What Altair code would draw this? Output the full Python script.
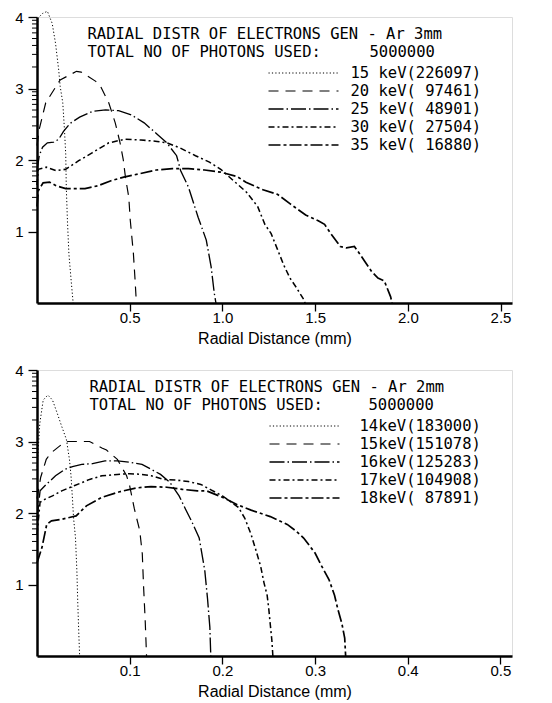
import altair as alt
import pandas as pd
import numpy as np

# ---------------- data: top panel (Ar 3mm) ----------------
top_names = ["15 keV", "20 keV", "25 keV", "30 keV", "35 keV"]
top_labels = ["15 keV(226097)", "20 keV( 97461)", "25 keV( 48901)", "30 keV( 27504)", "35 keV( 16880)"]
top_header = "RADIAL DISTR OF ELECTRONS GEN - Ar 3mm"

t15_x = [0.0, 0.004, 0.03, 0.056, 0.082, 0.10, 0.117, 0.125, 0.139, 0.148, 0.155, 0.158, 0.164, 0.172, 0.184, 0.195]
t15_y = [3.5, 3.98, 4.05, 4.08, 3.91, 3.63, 3.26, 3.03, 2.80, 2.43, 2.08, 1.62, 1.16, 0.69, 0.32, 0.0]
t20_x = [0.0, 0.012, 0.047, 0.125, 0.213, 0.238, 0.317, 0.343, 0.387, 0.422, 0.448, 0.465, 0.477, 0.495, 0.503, 0.52, 0.529, 0.536]
t20_y = [2.2, 2.43, 2.80, 3.12, 3.24, 3.23, 3.10, 3.03, 2.80, 2.52, 2.24, 2.01, 1.76, 1.48, 1.16, 0.69, 0.32, 0.0]
t25_x = [0.0, 0.012, 0.03, 0.056, 0.09, 0.117, 0.143, 0.178, 0.23, 0.30, 0.37, 0.44, 0.509, 0.578, 0.648, 0.70, 0.753, 0.775, 0.817, 0.869, 0.913, 0.939, 0.956, 0.965]
t25_y = [1.85, 2.06, 2.18, 2.24, 2.25, 2.29, 2.40, 2.51, 2.60, 2.68, 2.70, 2.69, 2.63, 2.52, 2.36, 2.24, 2.06, 1.85, 1.62, 1.20, 0.88, 0.51, 0.14, 0.0]
t30_x = [0.0, 0.007, 0.05, 0.103, 0.155, 0.225, 0.297, 0.387, 0.474, 0.561, 0.648, 0.70, 0.77, 0.855, 0.93, 0.991, 1.06, 1.13, 1.19, 1.229, 1.263, 1.297, 1.331, 1.364, 1.398, 1.441, 1.446]
t30_y = [1.65, 1.87, 1.90, 1.85, 1.87, 1.99, 2.10, 2.24, 2.29, 2.28, 2.26, 2.24, 2.17, 2.06, 1.97, 1.87, 1.71, 1.55, 1.35, 1.10, 0.97, 0.75, 0.53, 0.35, 0.22, 0.04, 0.0]
t35_x = [0.0, 0.007, 0.033, 0.068, 0.103, 0.155, 0.259, 0.329, 0.399, 0.468, 0.556, 0.643, 0.73, 0.817, 0.904, 0.991, 1.078, 1.127, 1.212, 1.297, 1.364, 1.449, 1.517, 1.551, 1.585, 1.636, 1.669, 1.712, 1.737, 1.771, 1.805, 1.839, 1.873, 1.907, 1.915]
t35_y = [1.35, 1.57, 1.68, 1.69, 1.64, 1.60, 1.60, 1.64, 1.71, 1.76, 1.81, 1.86, 1.88, 1.88, 1.86, 1.83, 1.77, 1.69, 1.59, 1.52, 1.39, 1.23, 1.15, 1.10, 0.97, 0.79, 0.77, 0.79, 0.70, 0.57, 0.44, 0.35, 0.31, 0.09, 0.0]

# ---------------- data: bottom panel (Ar 2mm) ----------------
bot_names = ["14keV", "15keV", "16keV", "17keV", "18keV"]
bot_labels = ["14keV(183000)", "15keV(151078)", "16keV(125283)", "17keV(104908)", "18keV( 87891)"]
bot_header = "RADIAL DISTR OF ELECTRONS GEN - Ar 2mm"

b14_x = [0.0, 0.003, 0.0067, 0.0117, 0.0167, 0.0217, 0.0267, 0.0317, 0.035, 0.0367, 0.0383, 0.0395, 0.0415, 0.043, 0.044, 0.0452, 0.046]
b14_y = [2.6, 3.25, 3.58, 3.65, 3.58, 3.40, 3.21, 3.03, 2.75, 2.52, 2.19, 1.92, 1.66, 1.2, 0.74, 0.28, 0.0]
b15_x = [0.0, 0.004, 0.01, 0.015, 0.0267, 0.0333, 0.0483, 0.0567, 0.07, 0.075, 0.0867, 0.0967, 0.1, 0.105, 0.1109, 0.1136, 0.115, 0.1167, 0.1182]
b15_y = [2.2, 2.5, 2.75, 2.84, 2.96, 3.0, 3.0, 3.0, 2.91, 2.88, 2.75, 2.52, 2.38, 2.06, 1.75, 1.43, 0.97, 0.51, 0.0]
b16_x = [0.0, 0.0033, 0.01, 0.02, 0.03, 0.0383, 0.0483, 0.06, 0.0733, 0.0867, 0.1, 0.1133, 0.1233, 0.1333, 0.1433, 0.1533, 0.16, 0.167, 0.175, 0.181, 0.184, 0.1865, 0.1875]
b16_y = [1.9, 2.31, 2.40, 2.52, 2.61, 2.65, 2.68, 2.69, 2.73, 2.73, 2.71, 2.68, 2.61, 2.54, 2.43, 2.24, 2.06, 1.88, 1.65, 1.2, 0.8, 0.4, 0.0]
b17_x = [0.0, 0.0033, 0.0083, 0.0167, 0.0267, 0.04, 0.0567, 0.07, 0.0867, 0.1, 0.1133, 0.1233, 0.1367, 0.15, 0.1633, 0.1767, 0.1867, 0.2, 0.2172, 0.2241, 0.231, 0.2362, 0.2414, 0.2448, 0.2483, 0.25, 0.2517, 0.2534, 0.2545]
b17_y = [1.7, 2.15, 2.19, 2.24, 2.31, 2.38, 2.47, 2.52, 2.54, 2.55, 2.54, 2.52, 2.47, 2.46, 2.44, 2.40, 2.33, 2.24, 2.08, 1.93, 1.70, 1.48, 1.25, 1.03, 0.85, 0.67, 0.44, 0.22, 0.0]
b18_x = [0.0, 0.0054, 0.0105, 0.0156, 0.0259, 0.036, 0.0422, 0.0533, 0.07, 0.09, 0.107, 0.123, 0.14, 0.157, 0.173, 0.183, 0.2, 0.2172, 0.231, 0.2517, 0.27, 0.2793, 0.2877, 0.3, 0.307, 0.315, 0.321, 0.3245, 0.329, 0.332, 0.333]
b18_y = [1.3, 1.52, 1.84, 1.89, 1.91, 1.94, 1.96, 2.10, 2.22, 2.30, 2.35, 2.37, 2.36, 2.33, 2.31, 2.31, 2.22, 2.11, 2.04, 1.95, 1.84, 1.75, 1.65, 1.44, 1.26, 1.07, 0.85, 0.66, 0.45, 0.25, 0.0]

photons = "5000000"
top_xticks = [0.5, 1.0, 1.5, 2.0, 2.5]
bot_xticks = [0.1, 0.2, 0.3, 0.4, 0.5]
y_major = [1, 2, 3, 4]
# log-style minor ticks within decades 1-2, 2-3, 3-4
y_minor = [d + np.log10(k) for d in (1, 2, 3) for k in range(2, 10)]

DASHES = [[1.2, 2.2], [10, 7], [15, 3, 1.5, 3], [6, 3, 2, 3], [12, 3, 3, 3]]
WIDTHS = [1.0, 1.7, 1.7, 1.7, 1.7]

W, H = 475, 286
MONO = "DejaVu Sans Mono"
FS = 15.5
HDR_Y = [17.0, 35.0]
ROWS_Y = [56.0, 74.0, 92.0, 110.0, 128.0]


def panel(names, labels, xs, ys, header, x_dom, x_ticks, hdr_x, num_x, sym_x, lab_x):
    recs = []
    for n, xa, ya in zip(names, xs, ys):
        for i, (a, b) in enumerate(zip(xa, ya)):
            recs.append({"series": n, "x": a, "y": b, "o": i})
    df = pd.DataFrame(recs)
    dash = alt.StrokeDash("series:N", scale=alt.Scale(domain=names, range=DASHES), legend=None)
    sw = alt.StrokeWidth("series:N", scale=alt.Scale(domain=names, range=WIDTHS), legend=None)
    yenc = alt.Y("y:Q", scale=alt.Scale(domain=[0, 4], nice=False, zero=False),
                 axis=alt.Axis(values=y_major, format="d", title=None, tickSize=9,
                               labelPadding=5, grid=False, domainWidth=2.5, tickWidth=1.3,
                               labelFontSize=15, labelFont="Liberation Sans", labelColor="black",
                               tickColor="black", domainColor="black", minExtent=22, maxExtent=22))
    xenc = alt.X("x:Q", scale=alt.Scale(domain=x_dom, nice=False, zero=False),
                 axis=alt.Axis(values=x_ticks, format=".1f", title="Radial Distance (mm)",
                               tickSize=8, labelPadding=-1, grid=False, domainWidth=2.5,
                               tickWidth=1.3, labelFontSize=15, labelFont="Liberation Sans",
                               labelColor="black", tickColor="black", domainColor="black",
                               titleFont="Liberation Sans", titleFontSize=16, titleFontWeight="normal",
                               titleColor="black", titlePadding=5))
    lines = alt.Chart(df).mark_line(color="black", strokeCap="butt").encode(
        x=xenc, y=yenc, strokeDash=dash, strokeWidth=sw, order="o:Q", detail="series:N")

    minor = alt.Chart(pd.DataFrame({"y": y_minor})).mark_rule(color="black", strokeWidth=1).encode(
        y=yenc, x=alt.value(-5), x2=alt.value(0))

    layers = [lines, minor]
    txt = dict(font=MONO, fontSize=FS, align="left", baseline="middle", color="black")
    layers.append(alt.Chart(pd.DataFrame({"t": [header]})).mark_text(**txt).encode(
        text="t:N", x=alt.value(hdr_x), y=alt.value(HDR_Y[0])))
    layers.append(alt.Chart(pd.DataFrame({"t": ["TOTAL NO OF PHOTONS USED:"]})).mark_text(**txt).encode(
        text="t:N", x=alt.value(hdr_x), y=alt.value(HDR_Y[1])))
    layers.append(alt.Chart(pd.DataFrame({"t": [photons]})).mark_text(**txt).encode(
        text="t:N", x=alt.value(num_x), y=alt.value(HDR_Y[1])))
    for i, (n, lab) in enumerate(zip(names, labels)):
        one = pd.DataFrame({"series": [n], "t": [lab.replace(" ", "\u00a0")]})
        layers.append(alt.Chart(one).mark_rule(color="black", strokeCap="butt").encode(
            x=alt.value(sym_x), x2=alt.value(sym_x + 70), y=alt.value(ROWS_Y[i]),
            strokeDash=dash, strokeWidth=sw))
        layers.append(alt.Chart(one).mark_text(**txt).encode(
            text="t:N", x=alt.value(lab_x), y=alt.value(ROWS_Y[i])))
    return alt.layer(*layers).properties(width=W, height=H)


top = panel(top_names, top_labels,
            [t15_x, t20_x, t25_x, t30_x, t35_x], [t15_y, t20_y, t25_y, t30_y, t35_y],
            top_header, [0, 2.562], top_xticks, 50.5, 332.5, 231.5, 313.5)
bot = panel(bot_names, bot_labels,
            [b14_x, b15_x, b16_x, b17_x, b18_x], [b14_y, b15_y, b16_y, b17_y, b18_y],
            bot_header, [0, 0.5125], bot_xticks, 52.5, 331.5, 232.5, 322.5)

chart = alt.vconcat(top, bot, spacing=15).resolve_scale(
    x="independent", y="independent", strokeDash="independent", strokeWidth="independent"
).properties(
    padding={"left": 6, "top": 0, "right": 5, "bottom": 2}
).configure_view(stroke="black", strokeWidth=2).configure(background="white")

chart.save("out.html", embed_options={"renderer": "svg", "actions": False})
